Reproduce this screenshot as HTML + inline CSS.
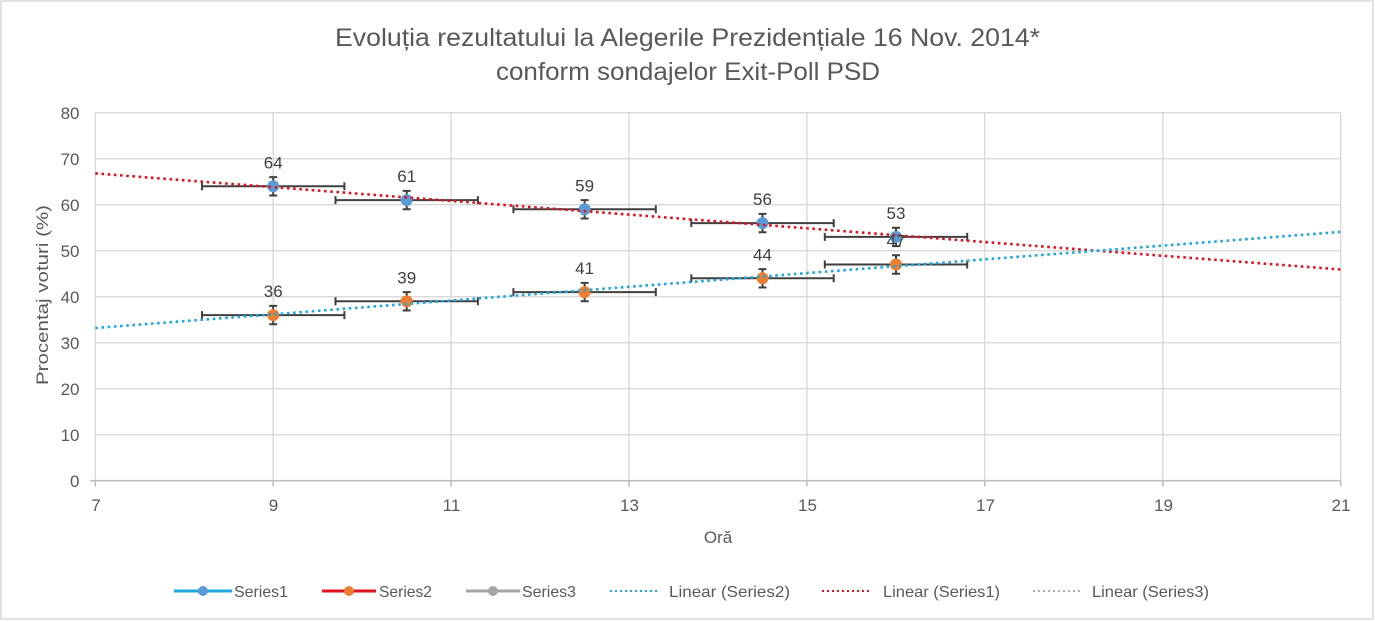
<!DOCTYPE html>
<html>
<head>
<meta charset="utf-8">
<style>
  html,body{margin:0;padding:0;background:#fff;}
  svg{display:block;}
  text{font-family:"Liberation Sans",Arial,sans-serif;}
</style>
</head>
<body>
<svg width="1375" height="622" viewBox="0 0 1375 622" xmlns="http://www.w3.org/2000/svg">
  <rect x="0" y="0" width="1375" height="622" fill="#ffffff"/>
  <rect x="1" y="1" width="1372" height="618" fill="none" stroke="#d9d9d9" stroke-width="1.5"/>

  <!-- Title -->
  <text x="687.5" y="46" font-size="25" fill="#595959" text-anchor="middle" textLength="705" lengthAdjust="spacingAndGlyphs">Evoluția rezultatului la Alegerile Prezidențiale 16 Nov. 2014*</text>
  <text x="688" y="80" font-size="25" fill="#595959" text-anchor="middle" textLength="384" lengthAdjust="spacingAndGlyphs">conform sondajelor Exit-Poll PSD</text>

  <!-- Gridlines horizontal -->
  <g stroke="#d9d9d9" stroke-width="1.4">
    <line x1="95.3" y1="434.7" x2="1340.7" y2="434.7"/>
    <line x1="95.3" y1="388.7" x2="1340.7" y2="388.7"/>
    <line x1="95.3" y1="342.7" x2="1340.7" y2="342.7"/>
    <line x1="95.3" y1="296.7" x2="1340.7" y2="296.7"/>
    <line x1="95.3" y1="250.7" x2="1340.7" y2="250.7"/>
    <line x1="95.3" y1="204.7" x2="1340.7" y2="204.7"/>
    <line x1="95.3" y1="158.7" x2="1340.7" y2="158.7"/>
    <line x1="95.3" y1="112.7" x2="1340.7" y2="112.7"/>
    <!-- vertical -->
    <line x1="95.3" y1="112.7" x2="95.3" y2="480.7"/>
    <line x1="273.2" y1="112.7" x2="273.2" y2="480.7"/>
    <line x1="451.1" y1="112.7" x2="451.1" y2="480.7"/>
    <line x1="629.0" y1="112.7" x2="629.0" y2="480.7"/>
    <line x1="806.9" y1="112.7" x2="806.9" y2="480.7"/>
    <line x1="984.8" y1="112.7" x2="984.8" y2="480.7"/>
    <line x1="1162.8" y1="112.7" x2="1162.8" y2="480.7"/>
    <line x1="1340.7" y1="112.7" x2="1340.7" y2="480.7"/>
  </g>
  <!-- X axis line and ticks -->
  <g stroke="#bfbfbf" stroke-width="1.6">
    <line x1="90" y1="480.7" x2="1340.7" y2="480.7"/>
    <line x1="95.3" y1="480.7" x2="95.3" y2="486.5"/>
    <line x1="273.2" y1="480.7" x2="273.2" y2="486.5"/>
    <line x1="451.1" y1="480.7" x2="451.1" y2="486.5"/>
    <line x1="629.0" y1="480.7" x2="629.0" y2="486.5"/>
    <line x1="806.9" y1="480.7" x2="806.9" y2="486.5"/>
    <line x1="984.8" y1="480.7" x2="984.8" y2="486.5"/>
    <line x1="1162.8" y1="480.7" x2="1162.8" y2="486.5"/>
    <line x1="1340.7" y1="480.7" x2="1340.7" y2="486.5"/>
  </g>

  <!-- Y tick labels -->
  <g font-size="17" fill="#595959" text-anchor="end">
    <text x="79.5" y="487">0</text>
    <text x="79.5" y="441">10</text>
    <text x="79.5" y="395">20</text>
    <text x="79.5" y="349">30</text>
    <text x="79.5" y="303">40</text>
    <text x="79.5" y="257">50</text>
    <text x="79.5" y="211">60</text>
    <text x="79.5" y="165">70</text>
    <text x="79.5" y="119">80</text>
  </g>
  <!-- X tick labels -->
  <g font-size="17" fill="#595959" text-anchor="middle">
    <text x="96" y="511">7</text>
    <text x="273.5" y="511">9</text>
    <text x="451.5" y="511">11</text>
    <text x="629.5" y="511">13</text>
    <text x="807.5" y="511">15</text>
    <text x="985.5" y="511">17</text>
    <text x="1163.5" y="511">19</text>
    <text x="1341" y="511">21</text>
  </g>

  <!-- Axis titles -->
  <text x="718" y="543" font-size="17" fill="#595959" text-anchor="middle">Oră</text>
  <text transform="translate(48,295) rotate(-90)" x="0" y="0" font-size="17" fill="#595959" text-anchor="middle" textLength="180" lengthAdjust="spacingAndGlyphs">Procentaj voturi (%)</text>

  <!-- Error bars -->
  <g stroke="#404040" stroke-width="2" fill="none">
    <!-- Series1 -->
    <path d="M202 186.3H344.4M202 182.3V190.3M344.4 182.3V190.3 M273.2 177.1V195.5M269.2 177.1H277.2M269.2 195.5H277.2"/>
    <path d="M335.5 200.1H477.9M335.5 196.1V204.1M477.9 196.1V204.1 M406.7 190.9V209.3M402.7 190.9H410.7M402.7 209.3H410.7"/>
    <path d="M513.4 209.3H655.8M513.4 205.3V213.3M655.8 205.3V213.3 M584.6 200.1V218.5M580.6 200.1H588.6M580.6 218.5H588.6"/>
    <path d="M691.3 223.1H833.7M691.3 219.1V227.1M833.7 219.1V227.1 M762.5 213.9V232.3M758.5 213.9H766.5M758.5 232.3H766.5"/>
    <path d="M824.8 236.9H967.2M824.8 232.9V240.9M967.2 232.9V240.9 M896 227.7V246.1M892 227.7H900M892 246.1H900"/>
    <!-- Series2 -->
    <path d="M202 315.1H344.4M202 311.1V319.1M344.4 311.1V319.1 M273.2 305.9V324.3M269.2 305.9H277.2M269.2 324.3H277.2"/>
    <path d="M335.5 301.3H477.9M335.5 297.3V305.3M477.9 297.3V305.3 M406.7 292.1V310.5M402.7 292.1H410.7M402.7 310.5H410.7"/>
    <path d="M513.4 292.1H655.8M513.4 288.1V296.1M655.8 288.1V296.1 M584.6 282.9V301.3M580.6 282.9H588.6M580.6 301.3H588.6"/>
    <path d="M691.3 278.3H833.7M691.3 274.3V282.3M833.7 274.3V282.3 M762.5 269.1V287.5M758.5 269.1H766.5M758.5 287.5H766.5"/>
    <path d="M824.8 264.5H967.2M824.8 260.5V268.5M967.2 260.5V268.5 M896 255.3V273.7M892 255.3H900M892 273.7H900"/>
  </g>

  <!-- Markers -->
  <g fill="#5b9bd5" stroke="#5b9bd5" stroke-width="1">
    <circle cx="273.2" cy="186.3" r="5.5"/>
    <circle cx="406.7" cy="200.1" r="5.5"/>
    <circle cx="584.6" cy="209.3" r="5.5"/>
    <circle cx="762.5" cy="223.1" r="5.5"/>
    <circle cx="896" cy="236.9" r="5.5"/>
  </g>
  <g fill="#ed7d31" stroke="#ed7d31" stroke-width="1">
    <circle cx="273.2" cy="315.1" r="5.5"/>
    <circle cx="406.7" cy="301.3" r="5.5"/>
    <circle cx="584.6" cy="292.1" r="5.5"/>
    <circle cx="762.5" cy="278.3" r="5.5"/>
    <circle cx="896" cy="264.5" r="5.5"/>
  </g>

  <!-- Trendlines -->
  <line x1="95.3" y1="173.4" x2="1340.7" y2="269.5" stroke="#e0121f" stroke-width="2.6" stroke-dasharray="2.6 3.6"/>
  <line x1="95.3" y1="328.0" x2="1340.7" y2="231.9" stroke="#1ea8dc" stroke-width="2.6" stroke-dasharray="2.6 3.6"/>

  <!-- Data labels -->
  <g font-size="17" fill="#404040" text-anchor="middle">
    <text x="273.2" y="168.3">64</text>
    <text x="406.7" y="182.1">61</text>
    <text x="584.6" y="191.3">59</text>
    <text x="762.5" y="205.1">56</text>
    <text x="896" y="218.9">53</text>
    <text x="273.2" y="297.1">36</text>
    <text x="406.7" y="283.3">39</text>
    <text x="584.6" y="274.1">41</text>
    <text x="762.5" y="260.3">44</text>
    <text x="896" y="246.5">47</text>
  </g>

  <!-- Legend -->
  <g>
    <line x1="174" y1="591" x2="232" y2="591" stroke="#1ea8dc" stroke-width="3"/>
    <circle cx="203" cy="591" r="5" fill="#5b9bd5"/>
    <text x="234" y="597" font-size="16" fill="#595959" textLength="54" lengthAdjust="spacingAndGlyphs">Series1</text>

    <line x1="322" y1="591" x2="376" y2="591" stroke="#e0121f" stroke-width="3"/>
    <circle cx="349" cy="591" r="5" fill="#ed7d31"/>
    <text x="379" y="597" font-size="16" fill="#595959" textLength="53" lengthAdjust="spacingAndGlyphs">Series2</text>

    <line x1="466" y1="591" x2="520" y2="591" stroke="#a5a5a5" stroke-width="3"/>
    <circle cx="493" cy="591" r="5" fill="#a5a5a5"/>
    <text x="522" y="597" font-size="16" fill="#595959" textLength="54" lengthAdjust="spacingAndGlyphs">Series3</text>

    <line x1="610" y1="591" x2="660" y2="591" stroke="#1ea8dc" stroke-width="2" stroke-dasharray="2 3"/>
    <text x="669" y="597" font-size="16" fill="#595959" textLength="121" lengthAdjust="spacingAndGlyphs">Linear (Series2)</text>

    <line x1="822" y1="591" x2="872" y2="591" stroke="#e0121f" stroke-width="2" stroke-dasharray="2 3"/>
    <text x="883" y="597" font-size="16" fill="#595959" textLength="117" lengthAdjust="spacingAndGlyphs">Linear (Series1)</text>

    <line x1="1033" y1="591" x2="1083" y2="591" stroke="#b0b0b0" stroke-width="2" stroke-dasharray="2 3"/>
    <text x="1092" y="597" font-size="16" fill="#595959" textLength="117" lengthAdjust="spacingAndGlyphs">Linear (Series3)</text>
  </g>
</svg>
</body>
</html>
